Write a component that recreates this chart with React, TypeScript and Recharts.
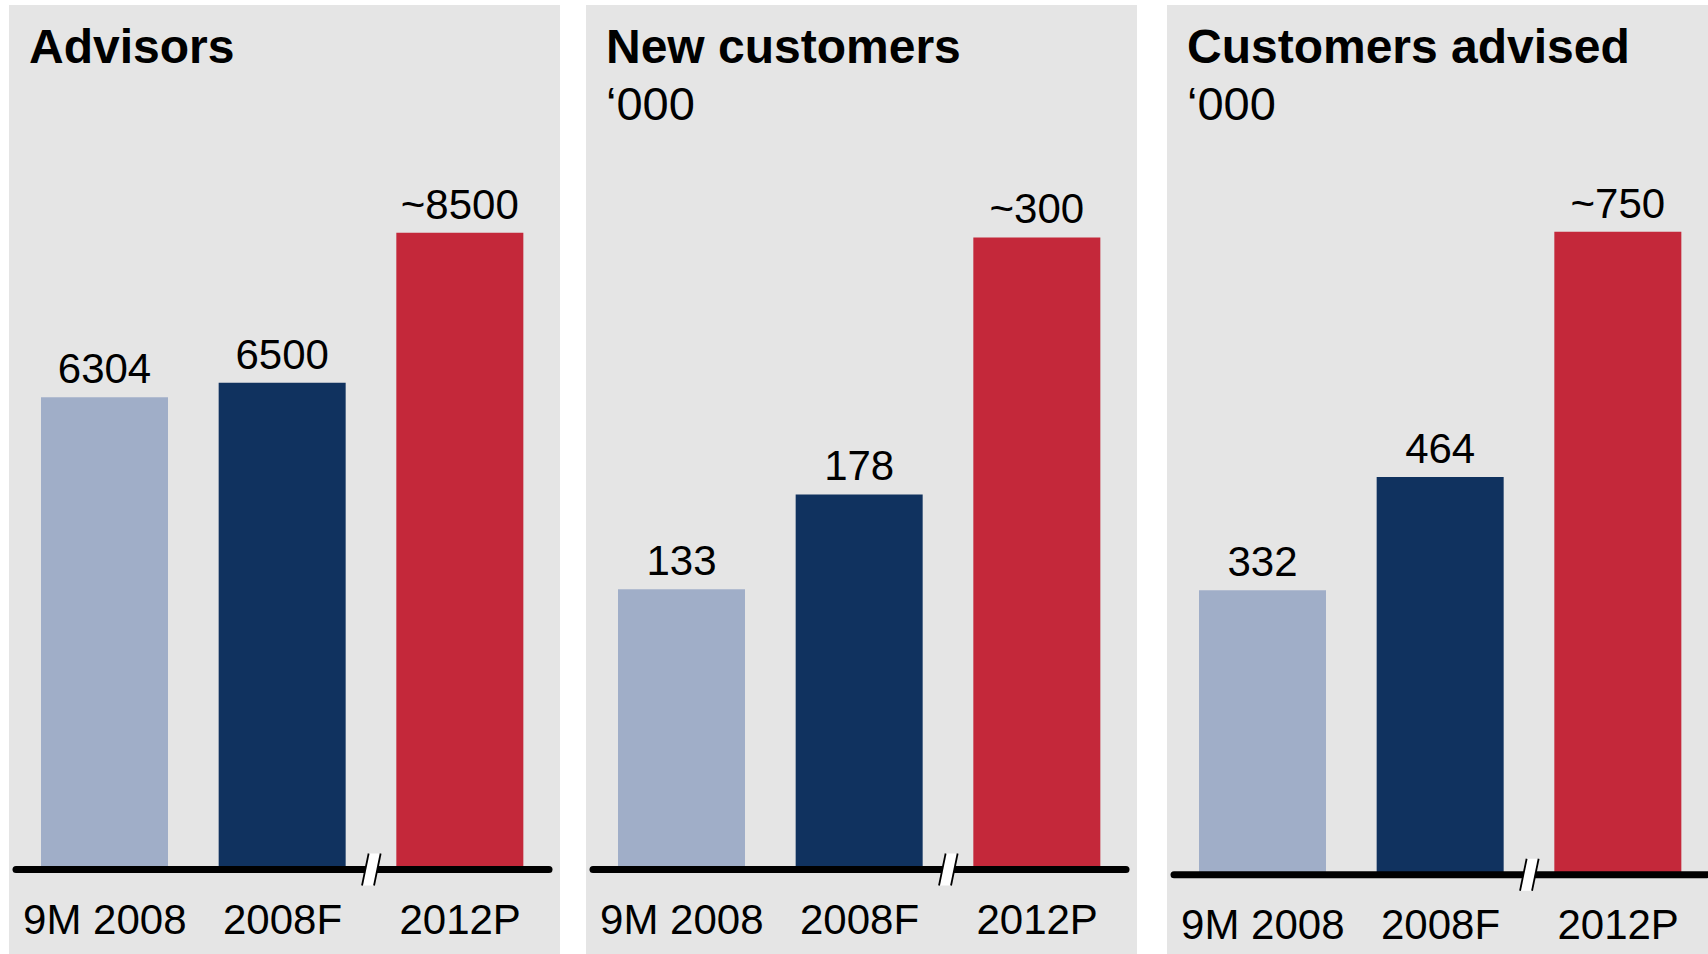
import React from "react";
import { BarChart, Bar, XAxis, YAxis, Cell, LabelList } from "recharts";

const categories = ["9M 2008", "2008F", "2012P"];

const advisorValues = [6304, 6500, 8500];
const advisorLabels = ["6304", "6500", "~8500"];

const newCustomerValues = [133, 178, 300];
const newCustomerLabels = ["133", "178", "~300"];

const advisedValues = [332, 464, 750];
const advisedLabels = ["332", "464", "~750"];

const barColors = ["#A0AEC8", "#10325F", "#C4283A"];

const FONT = '"Liberation Sans", Arial, Helvetica, sans-serif';
const PANEL_W = 551;
const PANEL_H = 949;
const M_LEFT = 7;
const M_RIGHT = 11;
const BAND = (PANEL_W - M_LEFT - M_RIGHT) / categories.length;

// x tick: category text, plus the "//" axis break before the last bar
const AxisTick = (props: any) => {
  const { x, y, payload, index } = props;
  const bx = x - BAND / 2;
  const g = 6;
  const s = 3.3;
  return (
    <g>
      {index === categories.length - 1 && (
        <g>
          <polygon
            points={`${bx - g - s},${y + 16} ${bx - g + s},${y - 16} ${bx + g + s},${y - 16} ${bx + g - s},${y + 16}`}
            fill="#fff"
          />
          <line x1={bx - g - s} y1={y + 16} x2={bx - g + s} y2={y - 16} stroke="#000" strokeWidth={1.8} />
          <line x1={bx + g - s} y1={y + 16} x2={bx + g + s} y2={y - 16} stroke="#000" strokeWidth={1.8} />
        </g>
      )}
      <text x={x} y={y + 64} textAnchor="middle" fontSize={42} fontFamily={FONT} fill="#000">
        {payload.value}
      </text>
    </g>
  );
};

interface PanelProps {
  left: number;
  title: string;
  subtitle?: string;
  values: number[];
  labels: string[];
  yMax: number;
  plotTop: number;
  axisY: number;
}

function Panel({ left, title, subtitle, values, labels, yMax, plotTop, axisY }: PanelProps) {
  const data = categories.map((name, i) => ({ name, value: values[i], label: labels[i] }));
  return (
    <div
      style={{
        position: "absolute",
        left,
        top: 5,
        width: PANEL_W,
        height: PANEL_H,
        background: "#E5E5E5",
      }}
    >
      <svg width={PANEL_W} height={140} style={{ position: "absolute", left: 0, top: 0 }}>
        <text x={20} y={57.7} fontFamily={FONT} fontWeight="bold" fontSize={48} fill="#000">
          {title}
        </text>
        {subtitle && (
          <text x={20} y={115} fontFamily={FONT} fontSize={47} fill="#000">
            {subtitle}
          </text>
        )}
      </svg>
      <div style={{ position: "absolute", left: 0, top: 0 }}>
        <BarChart
          width={PANEL_W}
          height={PANEL_H}
          data={data}
          margin={{ top: plotTop, right: M_RIGHT, bottom: 0, left: M_LEFT }}
          barCategoryGap={0}
        >
          <YAxis hide width={0} domain={[0, yMax]} allowDataOverflow />
          <Bar dataKey="value" barSize={127} isAnimationActive={false}>
            {data.map((d, i) => (
              <Cell key={d.name} fill={barColors[i]} />
            ))}
            <LabelList
              dataKey="label"
              position="top"
              offset={14}
              fill="#000"
              fontSize={42}
              fontFamily={FONT}
            />
          </Bar>
          <XAxis
            dataKey="name"
            height={PANEL_H - axisY}
            axisLine={{ stroke: "#000", strokeWidth: 7, strokeLinecap: "round" }}
            tickLine={false}
            tickSize={0}
            tickMargin={0}
            interval={0}
            tick={<AxisTick />}
          />
        </BarChart>
      </div>
    </div>
  );
}

export default function App() {
  return (
    <div
      style={{
        position: "absolute",
        left: 0,
        top: 0,
        width: 1708,
        height: 954,
        overflow: "hidden",
        background: "#fff",
      }}
    >
      <Panel
        left={9}
        title="Advisors"
        values={advisorValues}
        labels={advisorLabels}
        yMax={10000}
        plotTop={115.5}
        axisY={864.5}
      />
      <Panel
        left={586}
        title="New customers"
        subtitle="‘000"
        values={newCustomerValues}
        labels={newCustomerLabels}
        yMax={355}
        plotTop={116.5}
        axisY={864.5}
      />
      <Panel
        left={1167}
        title="Customers advised"
        subtitle="‘000"
        values={advisedValues}
        labels={advisedLabels}
        yMax={875}
        plotTop={119.7}
        axisY={869.7}
      />
    </div>
  );
}
